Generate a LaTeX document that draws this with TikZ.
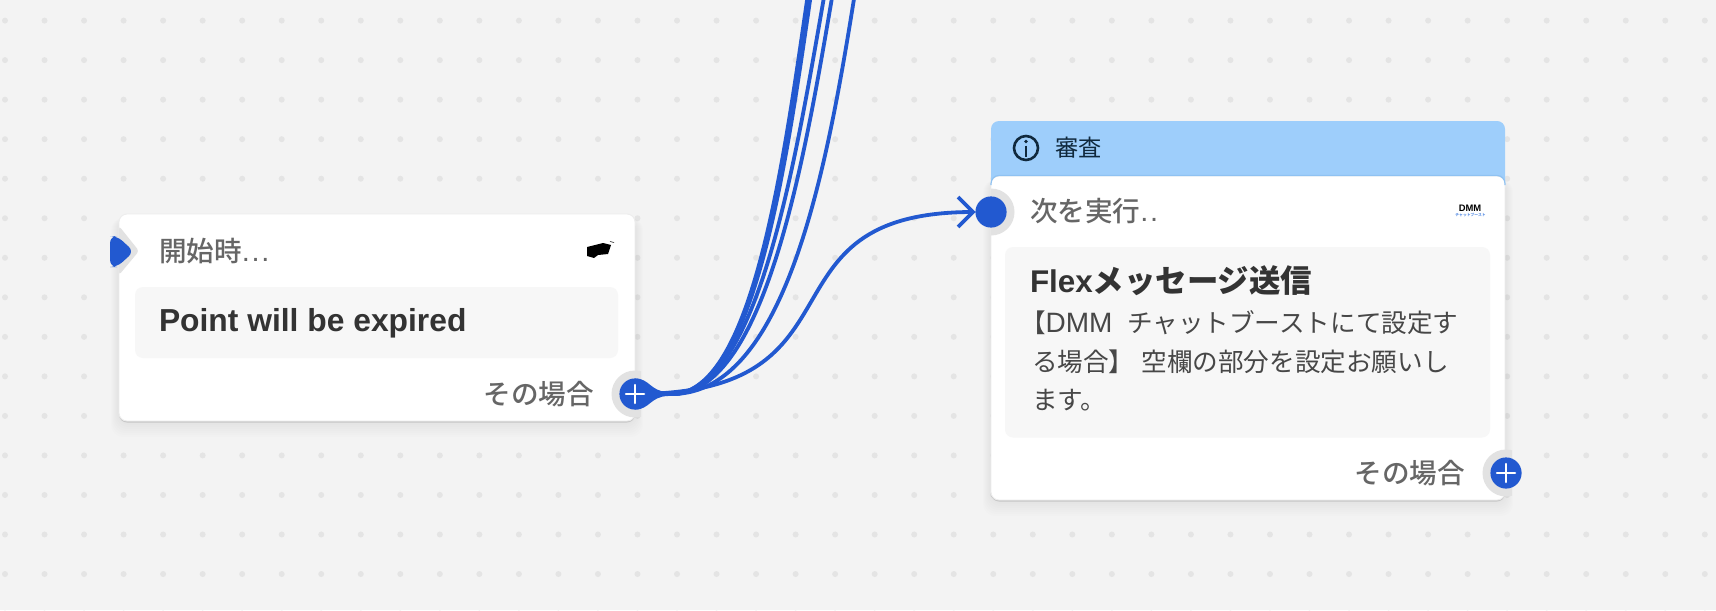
\documentclass[tikz,border=0pt]{standalone}
\usepackage{fontspec}
\setmainfont{Liberation Sans}
\newfontfamily\cjk{Noto Sans CJK JP}
\newfontfamily\cjkmed{Noto Sans CJK JP Medium}
\newfontfamily\latb{Liberation Sans}[BoldFont={Liberation Sans Bold}]
\definecolor{bgc}{HTML}{F3F3F3}
\definecolor{dotc}{HTML}{E4E4E4}
\definecolor{flow}{HTML}{2259D0}
\definecolor{hdr}{HTML}{9ECEFB}
\definecolor{hdrline}{HTML}{8FC2F2}
\definecolor{inner}{HTML}{F7F7F7}
\definecolor{halo}{HTML}{E2E2E2}
\definecolor{txt}{HTML}{666666}
\definecolor{dark}{HTML}{333333}
\definecolor{navy}{HTML}{10293D}
\tikzset{
  x=0.5pt,y=-0.5pt,
  cardbox/.style={fill=white,draw=black!7,line width=0.45pt,rounded corners=4pt},
  innerbox/.style={fill=inner,rounded corners=4pt},
  haloc/.style={circle,fill=halo,minimum size=23.5pt,inner sep=0pt,outer sep=0pt},
  portc/.style={circle,fill=flow,minimum size=15.6pt,inner sep=0pt,outer sep=0pt},
  flowline/.style={draw=flow,line width=1.9pt},
  pluss/.style={white,line width=1.25pt,line cap=round},
  lbl/.style={inner sep=0pt,outer sep=0pt,text=txt,font=\fontsize{13.8}{16}\cjkmed},
  ttl/.style={inner sep=0pt,outer sep=0pt,text=dark,anchor=west},
  bodyline/.style={inner sep=0pt,outer sep=0pt,text=dark!90,anchor=west,font=\fontsize{12.8}{15}\cjk},
}
\newcommand{\softshadow}[4]{%
  \foreach \k in {2,4,...,16}{
    \fill[black,opacity=0.009,rounded corners=6pt] (#1-\k/2,#2+4) rectangle (#3+\k/2,#4+\k);
  }%
  \fill[black,opacity=0.13,rounded corners=4pt] (#1,#2+4) rectangle (#3,#4+1.5);
}
\begin{document}
\begin{tikzpicture}
\fill[bgc] (0,0) rectangle (1716,610);
\useasboundingbox (0,0) rectangle (1716,610);
% dotted canvas
\foreach \i in {0,...,43}{\foreach \j in {0,...,15}{
  \fill[dotc] ({5+39.53*\i},{20.6+39.53*\j}) circle (1.5pt);
}}
% left card
\softshadow{119}{214}{635}{421}
\draw[cardbox] (119,214) rectangle (635,421);
\fill[innerbox] (135,287) rectangle (618,358);
\node[lbl,anchor=west] (startlbl) at (159,251) {開始時{\fontsize{14.5}{16}\selectfont\latb\addfontfeature{LetterSpace=6} ...}};
\node[ttl,font=\fontsize{15.9}{18}\latb\bfseries] (startttl) at (159,323) {Point will be expired};
\node[lbl,anchor=east] (thenA) at (594,394) {その場合};
% black logo
\fill[black] (587,247) -- (603,243) -- (611,245) -- (608,254) -- (598,255) -- (594,258) -- (587,256) -- cycle;
\draw[black,line width=0.25pt] (610,241.5) -- (614,242.5);
% start port
\fill[halo,rounded corners=1.5pt] (119,226) -- (139,251) -- (119,275) -- cycle;
\fill[flow,rounded corners=3.5pt] (110,236) -- (117,236) -- (134,251.5) -- (117,267) -- (110,267) -- cycle;
% right card
\softshadow{991}{176}{1505}{500}
\fill[hdr,rounded corners=4pt] (991,121) rectangle (1505,190);
\draw[cardbox] (991,176) rectangle (1505,500);
\draw[hdrline,line width=0.6pt,rounded corners=4pt] (991,185) -- (991,175.5) -- (1505,175.5) -- (1505,185);
\fill[innerbox] (1005,247) rectangle (1490,437.5);
\node[lbl,anchor=west] (nextlbl) at (1030,211) {次を実行{\fontsize{14.5}{16}\selectfont\latb\addfontfeature{LetterSpace=6} ..}};
\node[inner sep=0pt,outer sep=0pt,text=navy,anchor=west,font=\fontsize{11.6}{14}\cjk] (hdrlbl) at (1055,148) {審査};
\node[circle,draw=navy,line width=1.3pt,minimum size=12pt,inner sep=0pt,outer sep=0pt] (info) at (1026,148) {};
\fill[navy] (1026,141.5) circle (0.9pt);
\draw[navy,line width=1.3pt] (info.center) ++(0,-2.5) -- ++(0,11);
\node[ttl,font=\fontsize{15.7}{18}\cjk\bfseries] (flexttl) at (1030,281) {{\latb\bfseries Flex}メッセージ送信};
\node[bodyline] (l1) at (1020,323) {【{\fontsize{14}{15}\selectfont\latb DMM}\hspace{4.5pt} チャットブーストにて設定す};
\node[bodyline] (l2) at (1032,362) {る場合】\hspace{3.5pt}空欄の部分を設定お願いし};
\node[bodyline] (l3) at (1032,400) {ます。};
\node[lbl,anchor=east] (thenB) at (1465,473) {その場合};
% DMM logo
\node[inner sep=0pt,text=black,font=\fontsize{4.7}{5}\latb\bfseries] (dmm) at (1470,208.5) {DMM};
\node[inner sep=0pt,text=hdr!50!flow,font=\fontsize{1.9}{2}\cjk\bfseries] (dmmsub) at (1470.5,215) {チャットブースト};
% port halos, cut off at the card edge
\begin{scope}
  \clip (560,360) rectangle (641,421);
  \node[haloc] (haloA) at (635,394) {};
\end{scope}
\begin{scope}
  \clip (1440,440) rectangle (1512,500);
  \node[haloc] (haloB) at (1506,473) {};
\end{scope}
\begin{scope}
  \clip (991,180) rectangle (1030,245);
  \node[haloc] (haloC) at (991,212) {};
\end{scope}
\coordinate (top1) at (810,-20);
\coordinate (top2) at (813,-20);
\coordinate (top3) at (827,-20);
\coordinate (top4) at (835,-20);
\coordinate (top5) at (857,-20);
\node[portc] (plusA) at (635,394) {};
\node[portc] (plusB) at (1506,473) {};
\node[portc] (target) at (991,212) {};
\coordinate (tip) at (973,212);
\coordinate (flatend) at (672,394);
% connectors
\draw[flowline] (plusA.center) -- (flatend) .. controls (755,394) and (785,150) .. (top1);
\draw[flowline] (plusA.center) -- (flatend) .. controls (757,394) and (788,150) .. (top2);
\draw[flowline] (plusA.center) -- (flatend) .. controls (760,394) and (797,150) .. (top3);
\draw[flowline] (plusA.center) -- (flatend) .. controls (767,394) and (806,150) .. (top4);
\draw[flowline] (plusA.center) -- (flatend) .. controls (790,394) and (830,150) .. (top5);
\draw[flowline] (plusA.center) .. controls (875,394) and (750,212) .. (tip);
\draw[flowline,line join=miter] (tip) ++(-15,-15) -- ++(15,15) -- ++(-15,15);
\fill[flow] (635,378.5) .. controls (650,378.5) and (650,391.5) .. (668,392) -- (668,396) .. controls (650,396.5) and (650,409.5) .. (635,409.5) -- cycle;
\foreach \n in {plusA,plusB}{
  \draw[pluss] (\n.center) ++(-9,0) -- ++(18,0);
  \draw[pluss] (\n.center) ++(0,-9) -- ++(0,18);
}
\end{tikzpicture}
\end{document}
